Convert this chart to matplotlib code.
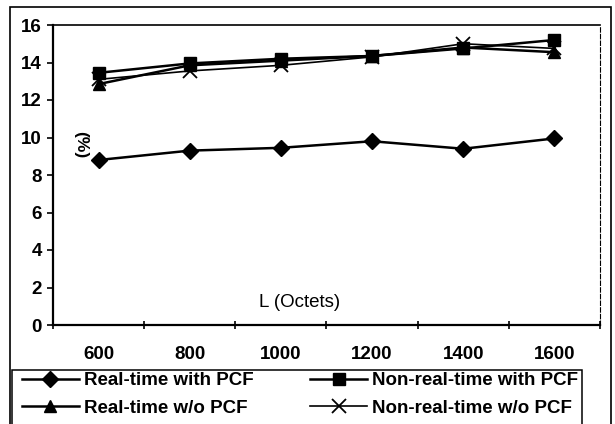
import matplotlib
matplotlib.use("Agg")
import matplotlib.pyplot as plt
from matplotlib.patches import Rectangle

plt.rcParams['font.family'] = ['Liberation Sans', 'DejaVu Sans']

lengths = ["600", "800", "1000", "1200", "1400", "1600"]
rt_pcf = [8.8, 9.3, 9.45, 9.8, 9.4, 9.95]
nrt_pcf = [13.45, 13.95, 14.2, 14.35, 14.75, 15.2]
rt_nopcf = [12.85, 13.85, 14.1, 14.35, 14.8, 14.55]
nrt_nopcf = [13.1, 13.55, 13.85, 14.3, 15.0, 14.75]

W, H = 615, 424
fig = plt.figure(figsize=(W / 100, H / 100), dpi=100)
ax = fig.add_axes([53 / W, 1 - 325 / H, 547 / W, 300 / H])

x = list(range(len(lengths)))
h1, = ax.plot(x, rt_pcf, color='black', lw=1.8, marker='D', ms=8, label='Real-time with PCF')
h2, = ax.plot(x, nrt_pcf, color='black', lw=1.8, marker='s', ms=9, label='Non-real-time with PCF')
h3, = ax.plot(x, rt_nopcf, color='black', lw=1.8, marker='^', ms=9, label='Real-time w/o PCF')
h4, = ax.plot(x, nrt_nopcf, color='black', lw=1.2, marker='x', ms=10, mew=1.3, label='Non-real-time w/o PCF')

ax.set_xlim(-0.5, len(lengths) - 0.5)
ax.set_ylim(0, 16)
ax.set_yticks(range(0, 17, 2))
ax.set_xticks([i - 0.5 for i in range(len(lengths) + 1)])
ax.set_xticklabels([])
ax.set_xticks(x, minor=True)
ax.set_xticklabels(lengths, minor=True)
ax.tick_params(axis='x', which='minor', length=0, pad=15, labelsize=13.5)
ax.tick_params(axis='x', which='major', direction='inout', length=6, width=1.2)
ax.tick_params(axis='y', direction='out', length=4, width=1.2, pad=4, labelsize=13.5)
for lab in ax.get_xticklabels(minor=True) + ax.get_yticklabels():
    lab.set_fontweight('bold')

for side in ['left', 'bottom']:
    ax.spines[side].set_linewidth(1.6)
ax.spines['top'].set_linewidth(1.2)
ax.spines['right'].set_linestyle((0, (4, 2)))
ax.spines['right'].set_linewidth(0.8)

ax.text(-0.2, 9.6, "(%)", rotation=-90, fontsize=12.5, fontweight='bold',
        ha='center', va='center')
ax.text(2.2, 1.2, "L (Octets)", fontsize=13.5, ha='center', va='center')

# legend entries are filled column by column, so rows read 1|2 and 3|4
leg = fig.legend([h1, h3, h2, h4],
                 [h.get_label() for h in (h1, h3, h2, h4)],
                 loc='upper left',
                 bbox_to_anchor=(20 / W, 1 - 370 / H, 560 / W, 0),
                 mode='expand', ncol=2, frameon=False,
                 prop={'size': 13.5, 'weight': 'bold'},
                 handlelength=3.0, borderaxespad=0, handletextpad=0.27,
                 labelspacing=0.55, borderpad=0.12, columnspacing=1.0)

# legend box and outer chart border
fig.patches.append(Rectangle((12 / W, -10 / H), 570 / W, 64 / H, transform=fig.transFigure,
                             fill=False, edgecolor='black', lw=1.1))
fig.patches.append(Rectangle((10 / W, -10 / H), 601 / W, 427 / H, transform=fig.transFigure,
                             fill=False, edgecolor='black', lw=1.2))

fig.savefig("out.png", dpi=100)
